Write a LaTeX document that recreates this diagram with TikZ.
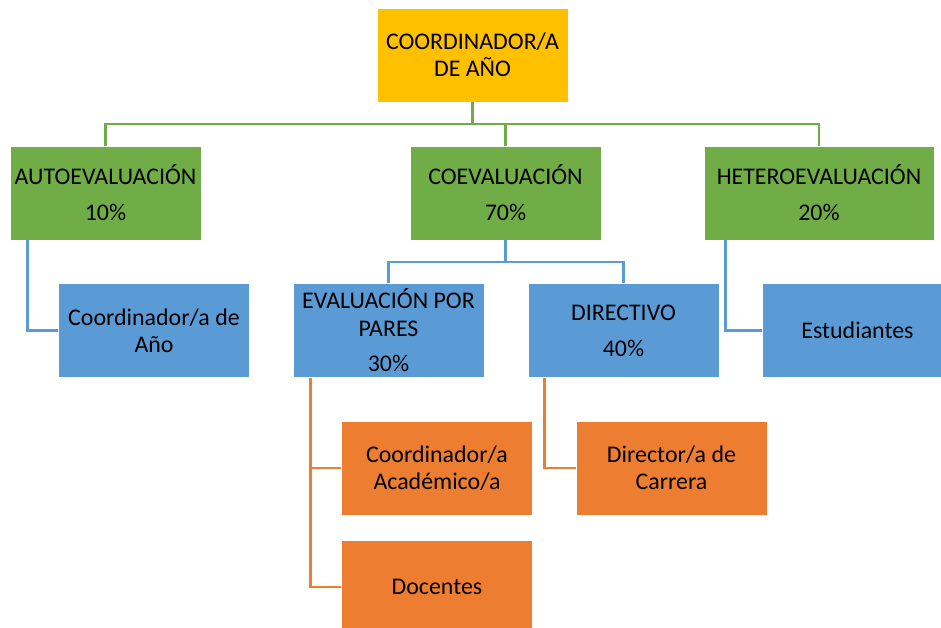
\documentclass[tikz,border=0pt]{standalone}
\usepackage{fontspec}
\setmainfont{Carlito}
\usepackage{tikz}
\usetikzlibrary{positioning}
\definecolor{gold}{HTML}{FFC000}
\definecolor{ogreen}{HTML}{70AD47}
\definecolor{oblue}{HTML}{5B9BD5}
\definecolor{oorange}{HTML}{ED7D31}

\begin{document}
\begin{tikzpicture}
  [x=0.025cm,y=-0.025cm,
  box/.style={rectangle,draw=white,thin,inner sep=1pt,minimum width=4.775cm,minimum height=2.35cm,align=center,font=\fontsize{17}{19.5}\selectfont},
  goldbox/.style={box,fill=gold},
  greenbox/.style={box,fill=ogreen},
  bluebox/.style={box,fill=oblue},
  orangebox/.style={box,fill=oorange},
  greenline/.style={draw=ogreen,line width=0.07cm},
  blueline/.style={draw=oblue,line width=0.07cm},
  orangeline/.style={draw=oorange,line width=0.07cm}]
  \useasboundingbox (0,0) rectangle (941,628);

  \node[goldbox] (coord) at (472.5,55) {COORDINADOR/A\\DE AÑO};

  \node[greenbox] (auto) at (105.5,193) {AUTOEVALUACIÓN\\[0.22cm]10\%};
  \node[greenbox] (coe) at (505.5,193) {COEVALUACIÓN\\[0.22cm]70\%};
  \node[greenbox,minimum width=5.75cm] (hetero) at (819,193) {HETEROEVALUACIÓN\\[0.22cm]20\%};

  \node[bluebox] (coordano) at (154,330.5) {Coordinador/a de\\Año};
  \node[bluebox] (pares) at (388.5,330.5) {EVALUACIÓN POR\\PARES\\[0.2cm]30\%};
  \node[bluebox] (directivo) at (623.5,330.5) {DIRECTIVO\\[0.22cm]40\%};
  \node[bluebox] (estud) at (857.5,330.5) {Estudiantes};

  \node[orangebox] (acad) at (437,468) {Coordinador/a\\Académico/a};
  \node[orangebox] (director) at (671.5,468) {Director/a de\\Carrera};
  \node[orangebox] (docentes) at (437,587) {Docentes};

  \coordinate (gbus) at (472.5,124);
  \coordinate (bbus) at (505.5,262);

  \draw[greenline] (coord.south) -- (gbus);
  \draw[greenline] (auto.north) |- (hetero.north |- gbus) -- (hetero.north);
  \draw[greenline] (coe.north) -- (coe.north |- gbus);

  \draw[blueline] ([xshift=0.45cm]auto.south west) |- (coordano.west);
  \draw[blueline] ([xshift=0.55cm]hetero.south west) |- (estud.west);
  \draw[blueline] (coe.south) -- (bbus);
  \draw[blueline] (pares.north) |- (bbus) -| (directivo.north);

  \draw[orangeline] ([xshift=0.45cm]pares.south west) |- (acad.west);
  \draw[orangeline] ([xshift=0.45cm]pares.south west) |- (docentes.west);
  \draw[orangeline] ([xshift=0.425cm]directivo.south west) |- (director.west);
\end{tikzpicture}
\end{document}
